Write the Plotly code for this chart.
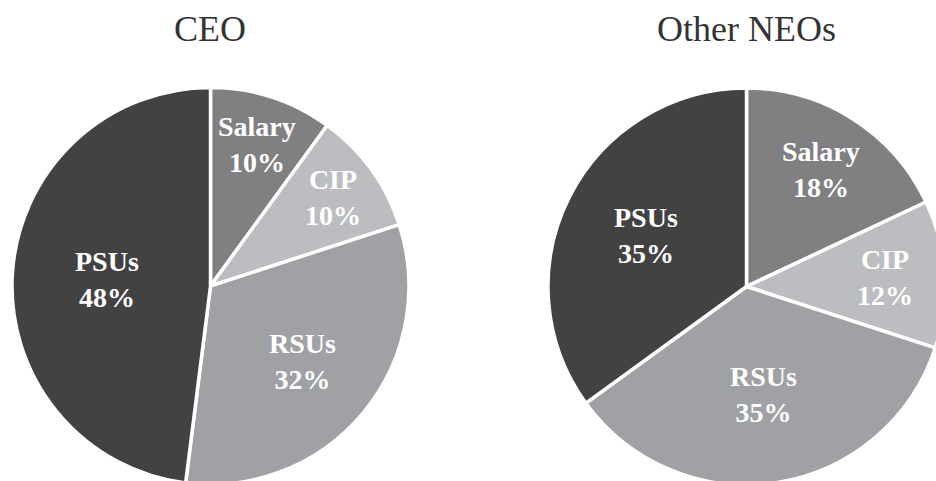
import math
import plotly.graph_objects as go

categories = ["Salary", "CIP", "RSUs", "PSUs"]
ceo_values = [10, 10, 32, 48]
neo_values = [18, 12, 35, 35]
titles = ["CEO", "Other NEOs"]
colors = ["#808083", "#bcbdc0", "#a0a1a4", "#424243"]

# styling / layout settings (not data)
W, H = 950, 495              # figure size (page clips to 936x481 window)
R = 198.5
pies = [
    dict(values=ceo_values, cx=210.5, cy=286.0, lab_frac=[0.75, 0.76, 0.60, 0.52]),
    dict(values=neo_values, cx=746.5, cy=286.5, lab_frac=[0.70, 0.70, 0.55, 0.57]),
]
title_x = [210, 746.5]
title_y = 29

fig = go.Figure()

def px(x):
    return x / W

def py(y):
    return 1 - y / H

for p in pies:
    cx, cy = p["cx"], p["cy"]
    fig.add_trace(go.Pie(
        labels=categories, values=p["values"], sort=False, direction="clockwise", rotation=0,
        marker=dict(colors=colors, line=dict(color="white", width=3.5)),
        textinfo="none", hoverinfo="skip", showlegend=False,
        domain=dict(x=[px(cx - R), px(cx + R)], y=[py(cy + R), py(cy - R)]),
    ))
    total = sum(p["values"])
    cum = 0
    for lab, v, f in zip(categories, p["values"], p["lab_frac"]):
        mid = (cum + v / 2) / total * 2 * math.pi
        cum += v
        lx = cx + f * R * math.sin(mid)
        ly = cy - f * R * math.cos(mid)
        fig.add_annotation(text=f"{lab}<br>{v}%", x=px(lx), y=py(ly), xref="paper", yref="paper",
                           showarrow=False, xanchor="center", yanchor="middle",
                           font=dict(family="Liberation Serif", size=28, color="white", weight="bold"))

for t, tx in zip(titles, title_x):
    fig.add_annotation(text=t, x=px(tx), y=py(title_y), xref="paper", yref="paper",
                       showarrow=False, xanchor="center", yanchor="middle",
                       font=dict(family="Liberation Serif", size=36, color="#333333"))

fig.update_layout(width=W, height=H, margin=dict(l=0, r=0, t=0, b=0),
                  paper_bgcolor="white", plot_bgcolor="white")
fig.write_html("out.html", config={"displayModeBar": False},
               post_script="document.body.style.margin='0';document.body.style.overflow='hidden';")
